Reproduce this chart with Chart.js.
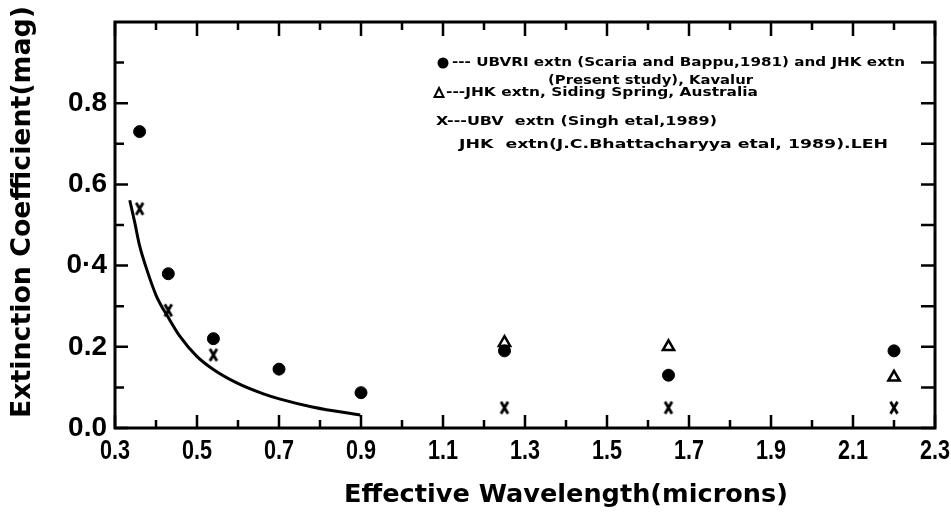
<!DOCTYPE html>
<html><head><meta charset="utf-8">
<script src="https://cdn.jsdelivr.net/npm/chart.js@4.4.1/dist/chart.umd.min.js"></script>
<style>html,body{margin:0;padding:0;background:#fff;overflow:hidden}canvas{display:block}</style>
</head><body>
<canvas id="c" width="951" height="512"></canvas>
<script>
// ---- data ----
const circleX = [0.36, 0.43, 0.54, 0.70, 0.90, 1.25, 1.65, 2.20];
const circleY = [0.73, 0.38, 0.22, 0.145, 0.087, 0.19, 0.13, 0.19];
const triangleX = [1.25, 1.65, 2.20];
const triangleY = [0.21, 0.20, 0.125];
const crossX = [0.36, 0.43, 0.54, 1.25, 1.65, 2.20];
const crossY = [0.54, 0.29, 0.18, 0.05, 0.05, 0.05];
const curveX = [0.336, 0.348, 0.360, 0.377, 0.401, 0.430, 0.458, 0.499, 0.540, 0.597, 0.662, 0.703, 0.784, 0.898];
const curveY = [0.561, 0.507, 0.449, 0.392, 0.325, 0.272, 0.226, 0.177, 0.144, 0.111, 0.084, 0.071, 0.051, 0.032];

const xTickValues = [0.3, 0.5, 0.7, 0.9, 1.1, 1.3, 1.5, 1.7, 1.9, 2.1, 2.3];
const xTickLabels = ["0.3", "0.5", "0.7", "0.9", "1.1", "1.3", "1.5", "1.7", "1.9", "2.1", "2.3"];
const xMinorValues = [0.4, 0.6, 0.8, 1.0, 1.2, 1.4, 1.6, 1.8, 2.0, 2.2];
const yTickValues = [0.0, 0.2, 0.4, 0.6, 0.8];
const yTickLabels = ["0.0", "0.2", "0·4", "0.6", "0.8"];
const yMinorValues = [0.1, 0.3, 0.5, 0.7, 0.9];

const xTitle = "Effective Wavelength(microns)";
const yTitle = "Extinction Coefficient(mag)";
const legendLines = [
  "--- UBVRI extn (Scaria and Bappu,1981) and JHK extn",
  "(Present study), Kavalur",
  "---JHK extn, Siding Spring, Australia",
  "X---UBV  extn (Singh etal,1989)",
  "JHK  extn(J.C.Bhattacharyya etal, 1989).LEH"
];

function pts(xs, ys) { return xs.map((x, i) => ({ x: x, y: ys[i] })); }

function makeX() {
  const c = document.createElement('canvas');
  c.width = 12; c.height = 15;
  const g = c.getContext('2d');
  g.strokeStyle = '#000'; g.lineWidth = 2.8;
  g.beginPath();
  g.moveTo(2.5, 1.5); g.lineTo(9.5, 13.5);
  g.moveTo(9.5, 1.5); g.lineTo(2.5, 13.5);
  g.stroke();
  return c;
}

function drawText(ctx, text, x, y, font, targetW, align) {
  ctx.save();
  ctx.font = font;
  ctx.textBaseline = 'middle';
  ctx.textAlign = 'left';
  const w = ctx.measureText(text).width;
  const sx = targetW ? targetW / w : 1;
  let left = x;
  if (align === 'center') left = x - (targetW || w) / 2;
  ctx.translate(left, y);
  ctx.scale(sx, 1);
  ctx.fillText(text, 0, 0);
  ctx.restore();
}

// draw the library's own x tick label items, horizontally condensed like the printed figure
function condenseLabels(scale, factor) {
  if (scale._condensed) return;
  scale._condensed = true;
  scale.drawLabels = function () {
    const ctx = this.ctx;
    const items = this.getLabelItems();
    ctx.save();
    for (const it of items) {
      const o = it.options;
      ctx.save();
      ctx.font = it.font.string;
      ctx.fillStyle = o.color;
      ctx.textAlign = o.textAlign;
      ctx.textBaseline = o.textBaseline;
      ctx.translate(o.translation[0], o.translation[1]);
      ctx.scale(factor, 1);
      ctx.fillText(it.label, 0, it.textOffset);
      ctx.restore();
    }
    ctx.restore();
  };
}

const framePlugin = {
  id: 'frame',
  afterDraw(chart) {
    const ctx = chart.ctx;
    const a = chart.chartArea;
    const xs = chart.scales.x, ys = chart.scales.y;
    ctx.save();
    ctx.strokeStyle = '#000';
    ctx.fillStyle = '#000';
    ctx.lineWidth = 3;
    ctx.lineCap = 'square';
    ctx.strokeRect(a.left, a.top, a.right - a.left, a.bottom - a.top);
    ctx.lineCap = 'butt';
    ctx.lineWidth = 2.5;
    ctx.beginPath();
    xTickValues.forEach(v => { const p = xs.getPixelForValue(v);
      ctx.moveTo(p, a.bottom); ctx.lineTo(p, a.bottom - 13);
      ctx.moveTo(p, a.top); ctx.lineTo(p, a.top + 14); });
    xMinorValues.forEach(v => { const p = xs.getPixelForValue(v);
      ctx.moveTo(p, a.bottom); ctx.lineTo(p, a.bottom - 8);
      ctx.moveTo(p, a.top); ctx.lineTo(p, a.top + 8); });
    yTickValues.forEach(v => { const p = ys.getPixelForValue(v);
      ctx.moveTo(a.left, p); ctx.lineTo(a.left + 13, p);
      ctx.moveTo(a.right, p); ctx.lineTo(a.right - 14, p); });
    yMinorValues.forEach(v => { const p = ys.getPixelForValue(v);
      ctx.moveTo(a.left, p); ctx.lineTo(a.left + 9, p);
      ctx.moveTo(a.right, p); ctx.lineTo(a.right - 14, p); });
    ctx.stroke();

    // axis titles
    drawText(ctx, xTitle, 566, 495, 'bold 25px "DejaVu Sans"', 444, 'center');
    ctx.save();
    ctx.translate(23, 212);
    ctx.rotate(-Math.PI / 2);
    drawText(ctx, yTitle, 0, 0, 'bold 26px "DejaVu Sans"', 412, 'center');
    ctx.restore();

    // legend
    const lf = 'bold 13px "DejaVu Sans"';
    ctx.beginPath(); ctx.arc(443, 63, 5.5, 0, Math.PI * 2); ctx.fill();
    drawText(ctx, legendLines[0], 452, 63, lf, 453);
    drawText(ctx, legendLines[1], 548, 81, lf, 205);
    ctx.lineWidth = 2;
    ctx.beginPath(); ctx.moveTo(439, 88); ctx.lineTo(443.5, 97); ctx.lineTo(434.5, 97); ctx.closePath(); ctx.stroke();
    drawText(ctx, legendLines[2], 446, 93, lf, 312);
    drawText(ctx, legendLines[3], 436, 122, lf, 281);
    drawText(ctx, legendLines[4], 459, 145, lf, 429);
    ctx.restore();
  }
};

function zeroPad(s) { s.paddingTop = 0; s.paddingBottom = 0; s.paddingLeft = 0; s.paddingRight = 0; }

new Chart(document.getElementById('c').getContext('2d'), {
  type: 'scatter',
  data: {
    datasets: [
      { label: 'curve', type: 'line', data: pts(curveX, curveY), borderColor: '#000', borderWidth: 3,
        pointRadius: 0, fill: false, cubicInterpolationMode: 'monotone', showLine: true },
      { label: 'UBVRI/JHK Kavalur', data: pts(circleX, circleY), pointStyle: 'circle', pointRadius: 6,
        backgroundColor: '#000', borderColor: '#000', borderWidth: 1 },
      { label: 'JHK Siding Spring', data: pts(triangleX, triangleY), pointStyle: 'triangle', pointRadius: 6.5,
        backgroundColor: '#fff', borderColor: '#000', borderWidth: 2.5 },
      { label: 'UBV/JHK LEH', data: pts(crossX, crossY), pointStyle: makeX(), pointRadius: 6 }
    ]
  },
  options: {
    responsive: false, animation: false, devicePixelRatio: 1,
    layout: { padding: { top: 22, right: 16, left: 0, bottom: 0 } },
    plugins: { legend: { display: false }, tooltip: { enabled: false } },
    scales: {
      x: {
        type: 'linear', min: 0.3, max: 2.3,
        afterFit(s) { s.height = 84; zeroPad(s); condenseLabels(s, 0.8); },
        afterBuildTicks(s) { s.ticks = xTickValues.map(v => ({ value: v })); },
        ticks: { callback: (v, i) => xTickLabels[i], autoSkip: false, maxRotation: 0,
          font: { family: '"Liberation Sans"', weight: 'bold', size: 27 },
          color: '#000', padding: 7 },
        grid: { display: false, drawTicks: false },
        border: { display: false }
      },
      y: {
        type: 'linear', min: 0, max: 1.0,
        afterFit(s) { s.width = 115; zeroPad(s); },
        afterBuildTicks(s) { s.ticks = yTickValues.map(v => ({ value: v })); },
        ticks: { callback: (v, i) => yTickLabels[i], autoSkip: false,
          font: { family: '"Liberation Sans"', weight: 'bold', size: 28 },
          color: '#000', padding: 8 },
        grid: { display: false, drawTicks: false },
        border: { display: false }
      }
    }
  },
  plugins: [framePlugin]
});
</script>
</body></html>
